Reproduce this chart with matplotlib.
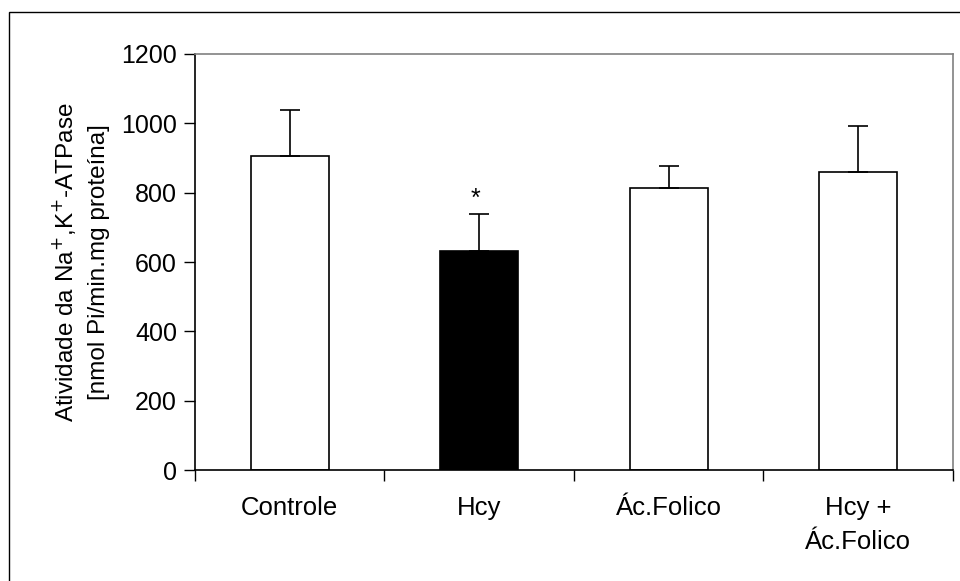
import numpy as np
import matplotlib
matplotlib.use("Agg")
import matplotlib.pyplot as plt
from matplotlib.patches import Rectangle

plt.rcParams['font.family'] = ['Liberation Sans', 'DejaVu Sans']

groups = ['Controle', 'Hcy', 'Ác.Folico', 'Hcy +\nÁc.Folico']
means = [906, 631, 813, 859]
sem = [132, 108, 65, 133]
colors = ['white', 'black', 'white', 'white']

fig = plt.figure(figsize=(9.6, 5.81), dpi=100)
ax = fig.add_axes([0.2031, 0.1910, 0.7896, 0.7161])

# outer frame around the whole chart (clipped at right/bottom like the original)
fig.patches.append(Rectangle((9 / 960, -0.2), 1.2, 1 - 12 / 581 + 0.2,
                             transform=fig.transFigure, fill=False,
                             edgecolor='black', linewidth=1.0))

x = np.arange(len(groups))
ax.bar(x, means, width=0.41, color=colors, edgecolor='black', linewidth=1.2,
       zorder=2)
lower = [0] * len(sem)
ax.errorbar(x, means, yerr=[lower, sem], fmt='none', ecolor='black',
            elinewidth=1.2, capsize=7, capthick=1.2, zorder=3)

# significance marker over Hcy
ax.text(x[1] - 0.02, means[1] + sem[1] + 42, '*', ha='center', va='center',
        fontsize=18)

ax.set_xlim(-0.5, len(groups) - 0.5)
ax.set_ylim(0, 1200)
ax.set_yticks(np.arange(0, 1201, 200))

# category boundary ticks, labels centered on bars
ax.set_xticks(np.arange(-0.5, len(groups), 1.0))
ax.set_xticklabels([])
ax.set_xticks(x, minor=True)
ax.set_xticklabels(groups, minor=True)
ax.tick_params(axis='x', which='minor', length=0, pad=19, labelsize=18.5)
ax.tick_params(axis='x', which='major', length=8, width=1, direction='out')
ax.tick_params(axis='y', length=8, width=1, direction='out', labelsize=18,
               pad=5)
for lab in ax.get_xticklabels(minor=True):
    lab.set_linespacing(1.5)

for side in ['top', 'right']:
    ax.spines[side].set_color('#808080')
    ax.spines[side].set_linewidth(1.2)
for side in ['left', 'bottom']:
    ax.spines[side].set_linewidth(1.2)

ax.set_ylabel('Atividade da Na$^{+}$,K$^{+}$-ATPase\n[nmol Pi/min.mg proteína]',
              fontsize=17.5, labelpad=8, linespacing=1.6)

fig.savefig('out.png', dpi=100)
